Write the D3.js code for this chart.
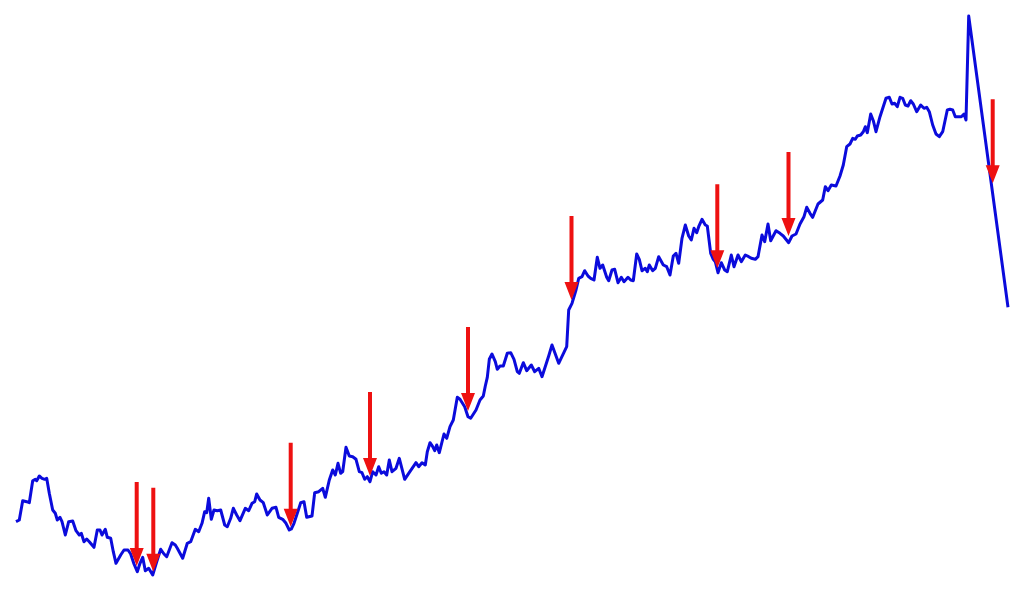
<!DOCTYPE html>
<html>
<head>
<meta charset="utf-8">
<script src="https://cdn.jsdelivr.net/npm/d3@7"></script>
<style>
  html, body { margin: 0; padding: 0; background: #ffffff; }
  svg { display: block; }
</style>
</head>
<body>
<svg id="chart" width="1024" height="614"></svg>
<script>
// time index of each observation
const times = [0,3.3,6.7,10.7,13.3,16.7,19.3,20.7,23.3,26,28.7,30.7,33.3,36.7,39.3,41.3,44,46,49.3,52.7,56.7,60,63.3,65.3,68,70.7,73.3,78,81.3,84,86,89.3,91.3,94.7,97.3,100,104.7,108,112,114.7,118,121.3,124,126.7,129.3,132.7,136.7,140.7,144.7,148,150.7,156,159.3,
161.3,166.7,171.3,174.7,179.3,182.7,186,188.7,190.7,192.7,195.3,198,201.3,204.7,208.7,211.3,214.7,217.3,220.7,224,229.3,232.7,236,238.7,240.7,244,247.3,251.3,256,260,262.7,266.7,270,273.3,275.3,278,281.3,284.7,288,290.7,296,298.7,302.7,306.7,309.3,313.3,316.7,319.3,322,324.7,
326.7,330,333.3,336.7,340,343.3,346,348.7,351.3,354,356.7,360,362.7,365.3,368,370.7,373.3,376,380,383.3,388.7,392.7,397.3,400,402.7,406,409.3,411.3,414,416.7,418.7,420.7,423.3,428,430.7,434,437.3,441.3,444,448.7,452,454.7,460,464,467.3,469.3,471.3,473.3,476,479.3,481.3,484,487.3,491.3,494.7,498,501.3,503.3,
507.3,510.7,515.3,518.7,522.7,526,532.7,536,542.7,550.7,552.7,556,560,562.7,566,568.7,572,574.7,578,581.3,584,586.7,590.7,592.7,596,598.7,602,605.3,608,612,614.7,617.3,620.7,623.3,626,629.3,631.3,633.3,636.7,639.3,642.7,647.3,650.7,654,657.3,660,662.7,
666,669.3,672.7,675.3,678,680.7,682.7,686,689.3,691.3,694.7,697.3,699.3,702,705.3,708.7,711.3,715.3,718,722,725.3,729.3,732.7,735.3,739.3,742,746,748.7,752,754.7,760,764,767.3,772.7,776,780,784,788,790.7,794,796.7,802,806.7,809.3,812,815.3,820,824,
827.3,830.7,834,836.7,839.3,841.3,844.7,847.3,849.3,851.3,854.7,857.3,860,864,870,873.3,876,878.7,881.3,884,886.7,889.3,892,894.7,897.3,900.7,904.7,908,910.7,913.3,916.7,920,923.3,926.7,931.3,934,936.7,939.3,942,945.3,948,950,952.7,992];

// series value at each observation
const values = [78.3,80,99.3,98.3,97.3,119.3,120.7,119.3,124,121.7,120.7,121.7,106.7,90,86.7,80,82.7,78.3,65,78.3,79,69.3,65,66.7,58.3,61,58.3,52.7,70,70,65,70.7,62.7,61.7,48.3,36.7,45,50,50,46,36,28.3,36.7,42.7,29.3,31.7,25,38.3,50.7,46,43.3,57.3,55,
51.7,41.7,56.7,58.3,70.7,68.3,76.7,88.3,87.3,101.7,80.7,90,89.3,90,75,73.3,81.7,91.7,85,79.3,91.7,89.3,96.7,98.3,106,100,97.3,85,91.7,92.7,82.7,80.7,76.7,70,71,76.7,86.7,97.3,98.3,82.7,84,107.3,108.3,111.7,102.7,120,130,125,136.7,126.7,
128.3,152.7,144,143.3,140.7,128.3,127.3,120.7,123.3,118.3,128.3,125,133.3,126.7,128.3,125,140,128.3,131.7,141.7,120.7,126.7,133.3,137.3,133.3,137.3,135,148.3,157.3,153.3,149.3,155,147.3,166,161.7,173.3,180,202.7,200.7,193.3,183.3,181.7,190,200,204,214,222.7,240.7,246,238.3,230.7,234,234,246.7,247.3,240.7,228.3,226.7,
237.3,229.3,235,228.3,231.7,223.3,244,255,236.7,253.3,290,296.7,310,321.7,323.3,329.3,324,321.7,320,342.7,331.7,335,322.7,319.3,330,330.7,317.3,322.7,318.3,322.7,320,319.3,346,340.7,329.3,331.7,328.3,335,329.3,331.7,343.3,335,333.3,325,344,346.7,336.7,
361.7,375,364,360,371.7,367.3,373.3,380.7,375,374,346.7,340.7,338.3,327.3,337.3,330,328.3,345,333.3,345,338.3,345,343.3,341.7,340.7,343.3,365,358.3,376,359.3,369.3,366.7,364,357.3,364,366,376,383.3,392.7,386.7,382.7,396,400,413.3,409.3,415,414,424,
435,453.3,456,461.7,460.7,464,465,468.3,473.3,467.3,486,479.3,468.3,483.3,501.7,502.7,496,496.7,493.3,502.7,501.7,495,494,499.3,496,488.3,495,491.7,492.7,488.3,475,466,463.3,468.3,490,490.7,490,483.3,483.3,483.3,486,480,584,292.7];

// marked events: time index and value at arrow tip
const arrowTimes  = [120.7, 137.3, 274.7, 354, 452, 555.5, 701.3, 772.5, 976.7];
const arrowValues = [34, 28.3, 73.3, 124, 189, 300, 331.7, 364, 416.7];

const svg = d3.select("#chart");

const x = d3.scaleLinear().domain([0, 992]).range([16, 1008]);
const y = d3.scaleLinear().domain([0, 600]).range([600, 0]);

const data = times.map((t, i) => ({ t, v: values[i] }));

const line = d3.line()
  .x(d => x(d.t))
  .y(d => y(d.v));

svg.append("path")
  .datum(data)
  .attr("fill", "none")
  .attr("stroke", "#0b0bdc")
  .attr("stroke-width", 3)
  .attr("stroke-linejoin", "round")
  .attr("stroke-linecap", "butt")
  .attr("d", line);

const arrows = arrowTimes.map((t, i) => ({ t, v: arrowValues[i] }));
const LEN = 84, HEAD = 18, HW = 7, SW = 2;

svg.append("g").selectAll("path.arrow")
  .data(arrows)
  .join("path")
  .attr("class", "arrow")
  .attr("fill", "#ee1111")
  .attr("d", d => {
    const cx = x(d.t), ty = y(d.v);
    return `M${cx - SW},${ty - LEN} L${cx + SW},${ty - LEN} L${cx + SW},${ty - HEAD} ` +
           `L${cx + HW},${ty - HEAD} L${cx},${ty} L${cx - HW},${ty - HEAD} L${cx - SW},${ty - HEAD} Z`;
  });
</script>
</body>
</html>
